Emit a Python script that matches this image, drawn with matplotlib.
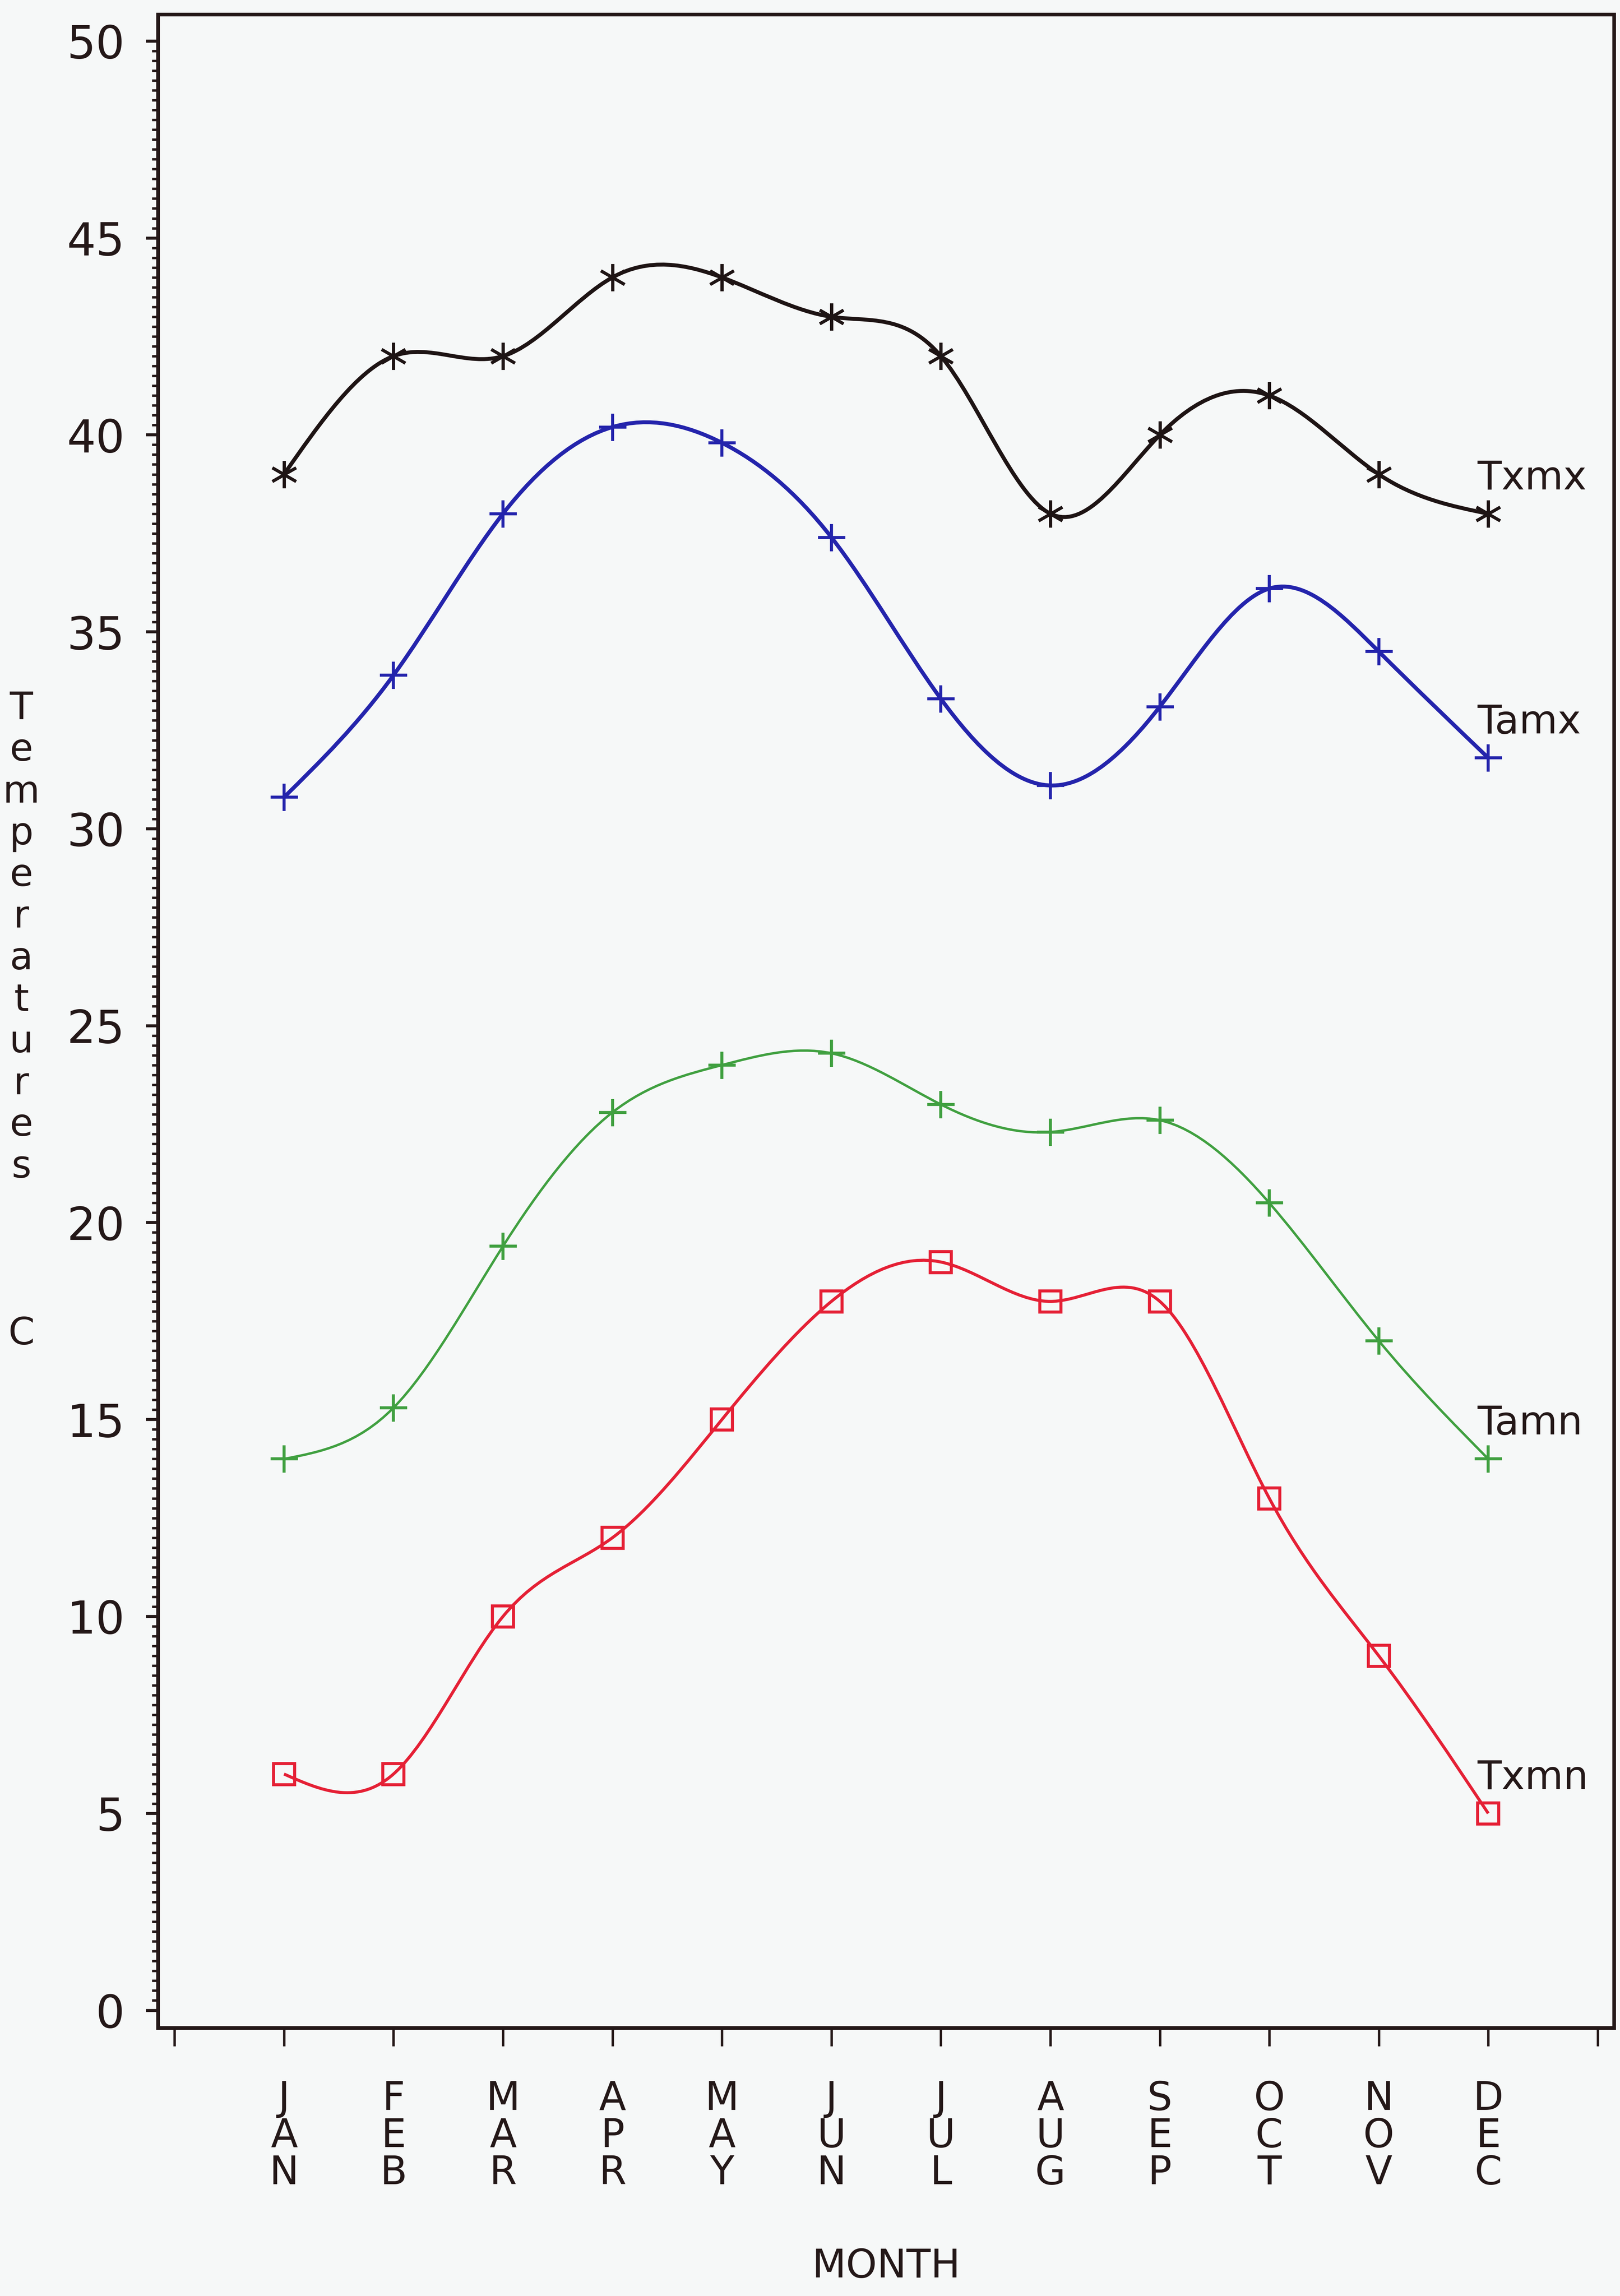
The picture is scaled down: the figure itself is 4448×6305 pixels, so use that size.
import numpy as np
import matplotlib
matplotlib.use("Agg")
import matplotlib.pyplot as plt
from matplotlib.path import Path
from matplotlib.patches import PathPatch

# monthly temperatures (C)
months = ["JAN", "FEB", "MAR", "APR", "MAY", "JUN",
          "JUL", "AUG", "SEP", "OCT", "NOV", "DEC"]
txmx = [39, 42, 42, 44, 44, 43, 42, 38, 40, 41, 39, 38]
tamx = [30.8, 33.9, 38.0, 40.2, 39.8, 37.4, 33.3, 31.1, 33.1, 36.1, 34.5, 31.8]
tamn = [14.0, 15.3, 19.4, 22.8, 24.0, 24.3, 23.0, 22.3, 22.6, 20.5, 17.0, 14.0]
txmn = [6, 6, 10, 12, 15, 18, 19, 18, 18, 13, 9, 5]

series = [
    ("Txmx", txmx, "#1e1414", (6, 2, 0), 2.6),
    ("Tamx", tamx, "#2424ac", "+", 2.6),
    ("Tamn", tamn, "#40a040", "+", 1.6),
    ("Txmn", txmn, "#e52035", "s", 2.0),
]

BG = "#f6f8f8"
INK = "#241818"


def spline_path(x, y):
    # natural cubic spline written as bezier segments
    x = np.asarray(x, float)
    y = np.asarray(y, float)
    n = len(y)
    A = np.zeros((n, n))
    b = np.zeros(n)
    A[0, 0] = A[-1, -1] = 1
    for i in range(1, n - 1):
        A[i, i - 1], A[i, i], A[i, i + 1] = 1, 4, 1
        b[i] = 6 * (y[i + 1] - 2 * y[i] + y[i - 1])
    M = np.linalg.solve(A, b)
    d = np.zeros(n)
    for i in range(n - 1):
        d[i] = (y[i + 1] - y[i]) - (2 * M[i] + M[i + 1]) / 6
    d[-1] = (y[-1] - y[-2]) + (M[-2] + 2 * M[-1]) / 6
    verts = [(x[0], y[0])]
    codes = [Path.MOVETO]
    for i in range(n - 1):
        h = x[i + 1] - x[i]
        verts += [(x[i] + h / 3, y[i] + d[i] * h / 3),
                  (x[i + 1] - h / 3, y[i + 1] - d[i + 1] * h / 3),
                  (x[i + 1], y[i + 1])]
        codes += [Path.CURVE4] * 3
    return Path(verts, codes)


plt.rcParams["font.family"] = ["DejaVu Sans"]
fig = plt.figure(figsize=(4448 / 300, 6305 / 300), dpi=300, facecolor=BG)
ax = fig.add_axes([0.0976, 0.1167, 0.8988, 0.8769], facecolor=BG)

xs = np.arange(1, len(months) + 1)
for name, vals, col, mk, lw in series:
    ax.add_patch(PathPatch(spline_path(xs, vals), facecolor="none",
                           edgecolor=col, lw=lw))
    if mk == "s":
        ax.plot(xs, vals, ls="none", marker=mk, ms=14, mfc="none",
                mec=col, mew=2.0)
    else:
        ax.plot(xs, vals, ls="none", marker=mk, ms=18, color=col, mew=2.0)
    ax.text(xs[-1] - 0.1, vals[-1] + 0.9, name, fontsize=26, color=INK,
            ha="left", va="center")

ax.set_xlim(-0.15, 13.15)
ax.set_ylim(-0.45, 50.67)

ax.set_yticks(np.arange(0, 51, 5))
ax.set_yticks(np.arange(0, 50.01, 0.25), minor=True)
ax.set_xticks(np.arange(0, 14))
ax.set_xticklabels([""] + ["\n".join(m) for m in months] + [""],
                   linespacing=0.95)

for s in ax.spines.values():
    s.set_linewidth(2.4)
    s.set_color(INK)

ax.tick_params(axis="y", which="major", direction="out", length=8, width=2,
               color=INK, labelsize=30, labelcolor=INK, pad=14)
ax.tick_params(axis="y", which="minor", direction="out", length=4, width=1.6,
               color=INK)
ax.tick_params(axis="x", which="major", direction="out", length=12, width=1.6,
               color=INK, labelsize=26, labelcolor=INK, pad=22)

ax.set_xlabel("MONTH", fontsize=26, color=INK, labelpad=36)
ax.set_ylabel("\n".join("Temperatures   C"), rotation=0, fontsize=25,
              color=INK, linespacing=1.17, va="center", ha="center")
ax.yaxis.set_label_coords(-0.094, 0.5)

fig.savefig("out.png", dpi=300, facecolor=BG)
